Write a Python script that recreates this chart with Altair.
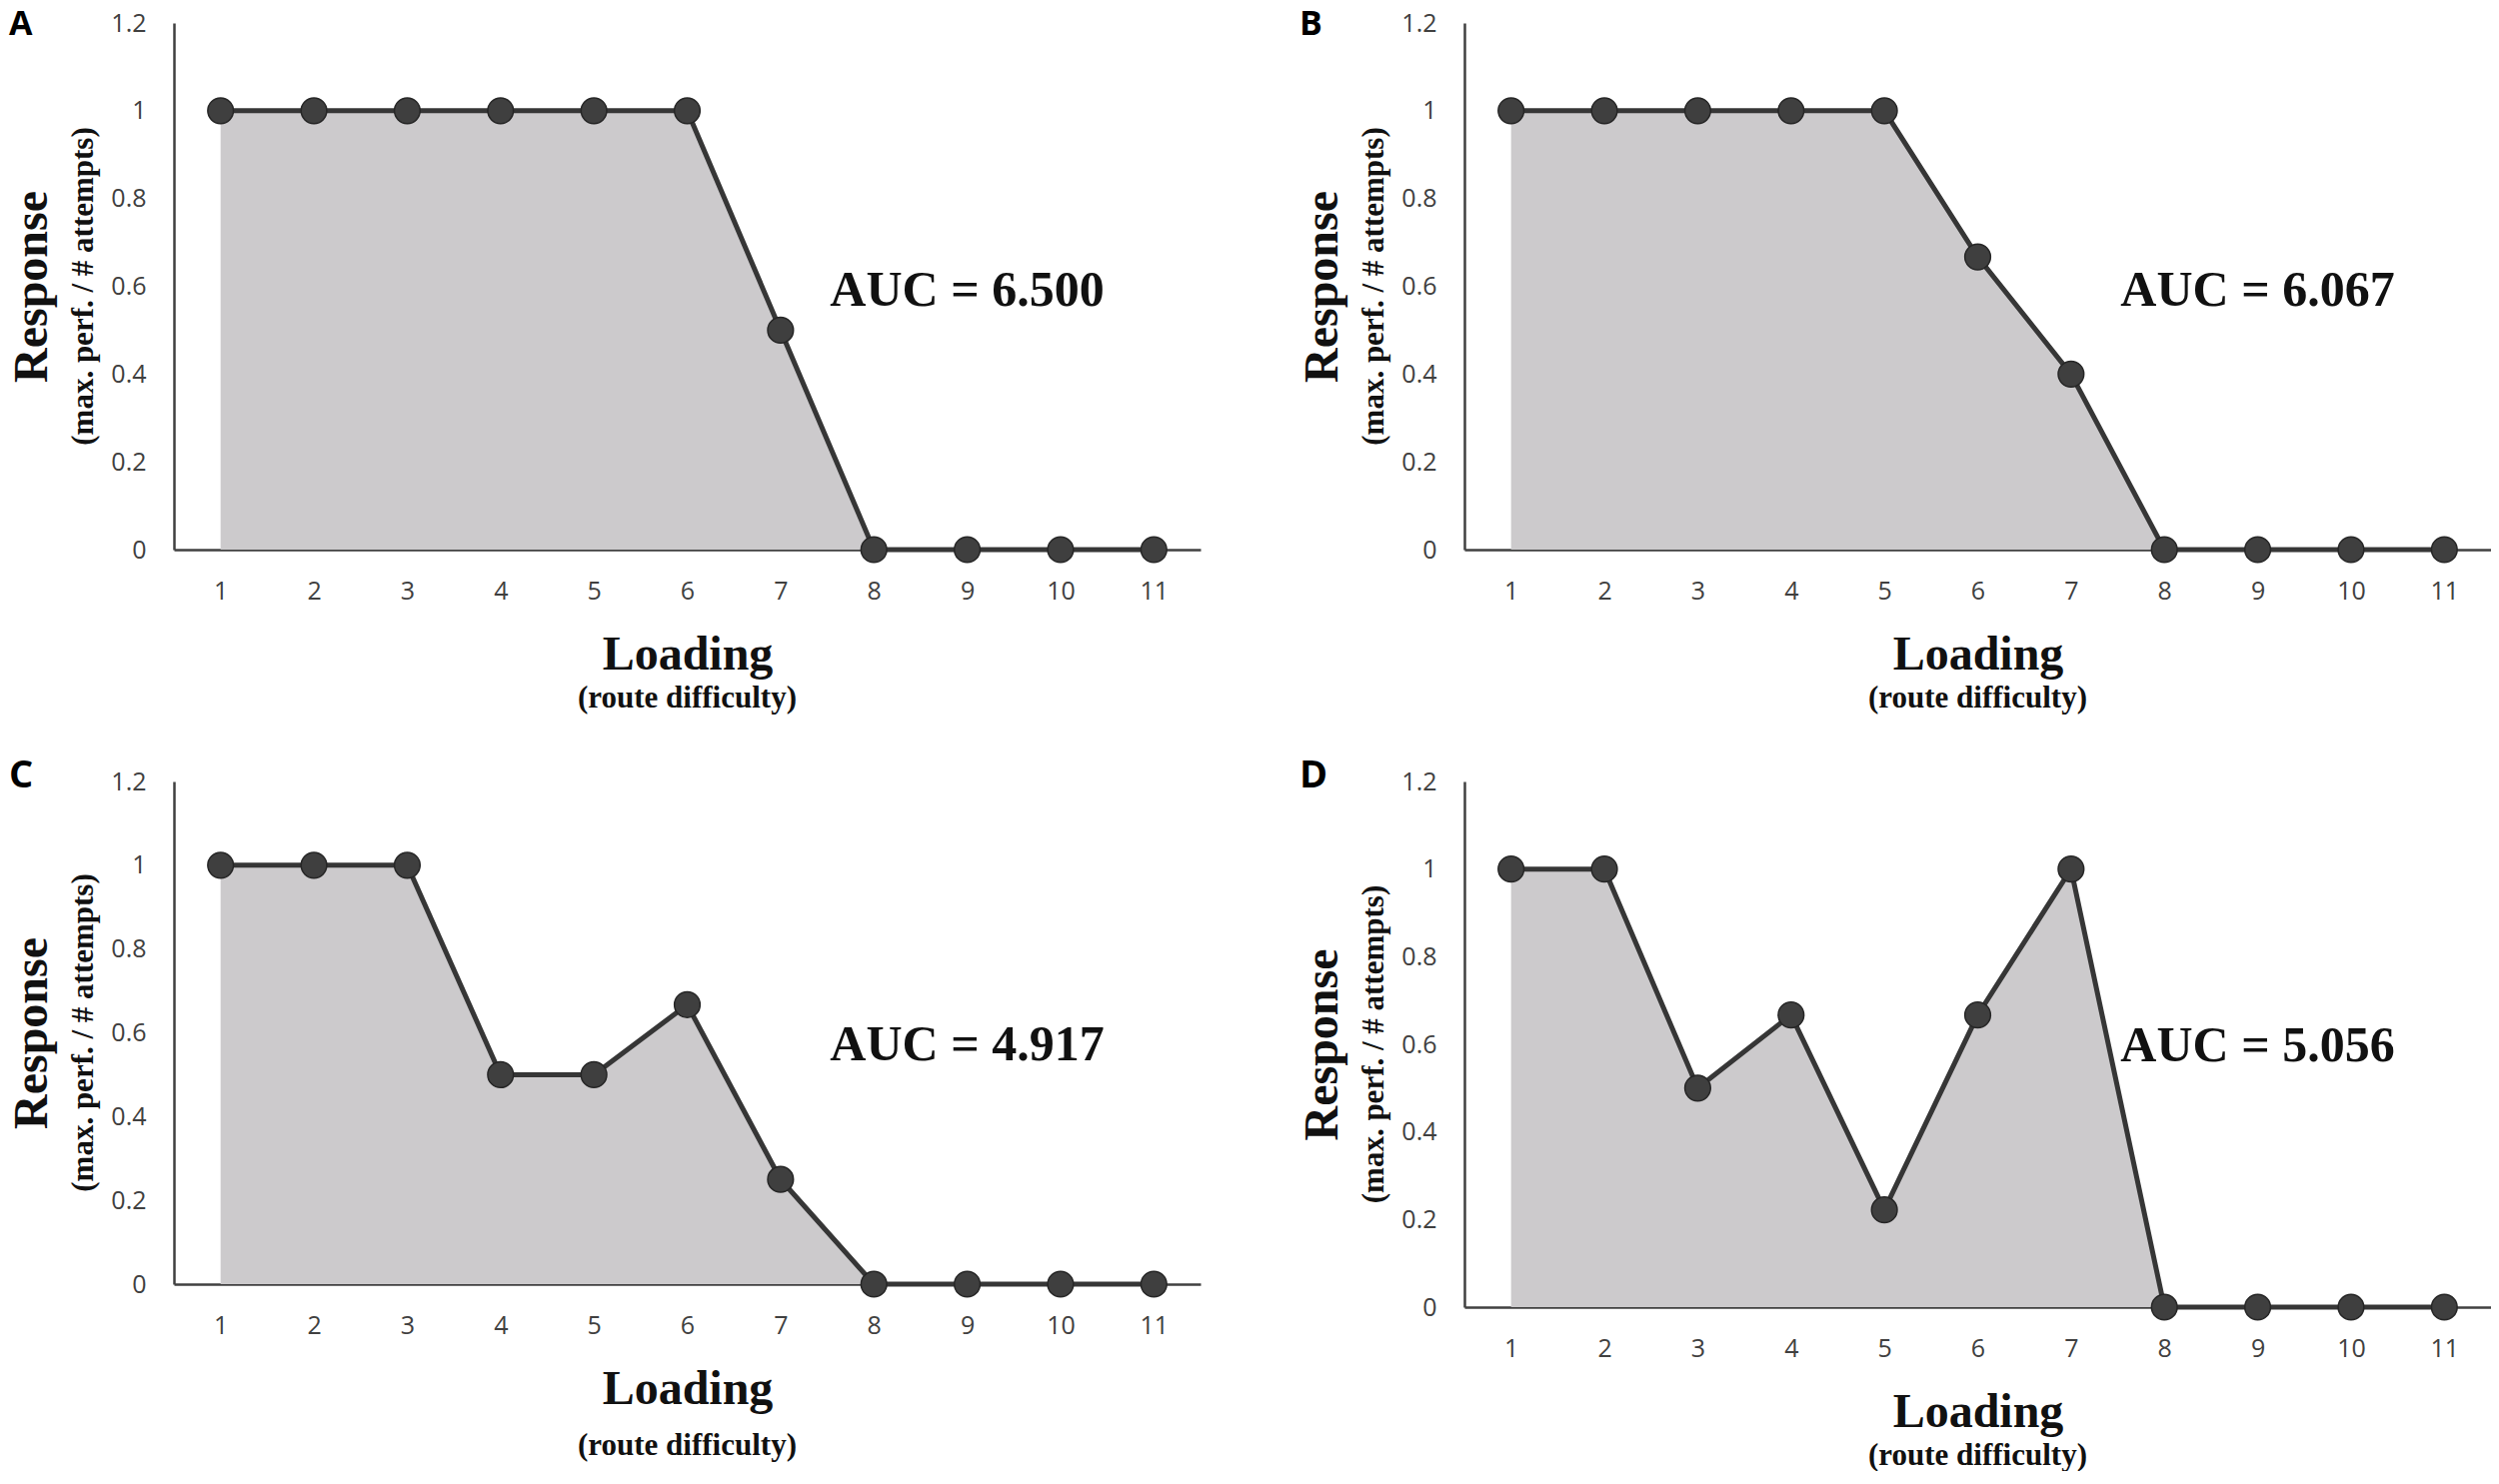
import altair as alt
import pandas as pd

# route difficulty levels (x) and response per panel (y)
LOADING = [1, 2, 3, 4, 5, 6, 7, 8, 9, 10, 11]
RESP_A = [1, 1, 1, 1, 1, 1, 0.5, 0, 0, 0, 0]
RESP_B = [1, 1, 1, 1, 1, 0.667, 0.4, 0, 0, 0, 0]
RESP_C = [1, 1, 1, 0.5, 0.5, 0.667, 0.25, 0, 0, 0, 0]
RESP_D = [1, 1, 0.5, 0.667, 0.222, 0.667, 1, 0, 0, 0, 0]

Y_TICKS = [0, 0.2, 0.4, 0.6, 0.8, 1, 1.2]
LETTERS = ["A", "B", "C", "D"]
AUC_TEXT = ["AUC = 6.500", "AUC = 6.067", "AUC = 4.917", "AUC = 5.056"]
AUC_X = [7.53, 7.53, 7.53, 7.53]
AUC_Y = [0.59, 0.59, 0.57, 0.595]

SERIF = "Liberation Serif, Times New Roman, serif"
SANS = "Open Sans, sans-serif"
W = 1027


def panel(resp, letter, auc_text, auc_x, auc_y, height, letter_size, letter_y, sub_gap):
    df = pd.DataFrame({"loading": LOADING, "response": resp})

    x = alt.X(
        "loading:Q",
        scale=alt.Scale(domain=[0.5, 11.5], nice=False, zero=False),
        axis=alt.Axis(
            values=LOADING, format="d", title="Loading", titleX=W / 2, titleY=119,
            titleBaseline="alphabetic", titleAlign="center",
            labelPadding=29, labelBaseline="top",
        ),
    )
    y = alt.Y(
        "response:Q",
        scale=alt.Scale(domain=[0, 1.2], nice=False),
        axis=alt.Axis(
            values=Y_TICKS, format="~g", title="Response", titleAngle=270,
            titleX=-128, titleY=height / 2, titleBaseline="alphabetic",
            titleAlign="center", labelPadding=28,
        ),
    )

    base = alt.Chart(df).encode(x=x, y=y)
    area = base.mark_area(color="#cccacc")
    line = base.mark_line(color="#363636", strokeWidth=5)
    dots = base.mark_circle(size=660, color="#3f3f3f", opacity=1, stroke="#262626", strokeWidth=1.5)

    auc = (
        alt.Chart(pd.DataFrame({"loading": [auc_x], "response": [auc_y], "t": [auc_text]}))
        .mark_text(font=SERIF, fontWeight="bold", fontSize=50, align="left", baseline="middle", color="#111111")
        .encode(x="loading:Q", y="response:Q", text="t:N")
    )

    lbl = alt.Chart(pd.DataFrame({"t": [letter]})).mark_text(
        font=SANS, fontWeight="bold", fontSize=letter_size, align="left", baseline="top", color="#000000"
    ).encode(x=alt.value(-165), y=alt.value(letter_y), text="t:N")

    ysub = alt.Chart(pd.DataFrame({"t": ["(max. perf. / # attempts)"]})).mark_text(
        font=SERIF, fontWeight="bold", fontSize=31, angle=270, align="center", baseline="alphabetic", color="#111111"
    ).encode(x=alt.value(-81), y=alt.value(height / 2), text="t:N")

    xsub = alt.Chart(pd.DataFrame({"t": ["(route difficulty)"]})).mark_text(
        font=SERIF, fontWeight="bold", fontSize=31, align="center", baseline="alphabetic", color="#111111"
    ).encode(x=alt.value(W / 2), y=alt.value(height + sub_gap), text="t:N")

    return alt.layer(area, line, dots, auc, lbl, ysub, xsub).properties(width=W, height=height)


pa = panel(RESP_A, LETTERS[0], AUC_TEXT[0], AUC_X[0], AUC_Y[0], 527, 34, -15, 158)
pb = panel(RESP_B, LETTERS[1], AUC_TEXT[1], AUC_X[1], AUC_Y[1], 527, 34, -15, 158)
pc = panel(RESP_C, LETTERS[2], AUC_TEXT[2], AUC_X[2], AUC_Y[2], 503, 38, -24, 171)
pd_ = panel(RESP_D, LETTERS[3], AUC_TEXT[3], AUC_X[3], AUC_Y[3], 526, 38, -24, 158)

chart = (
    alt.vconcat(
        alt.hconcat(pa, pb, spacing=98),
        alt.hconcat(pc, pd_, spacing=98),
        spacing=44,
    )
    .properties(padding=0, background="white")
    .configure_view(stroke=None)
    .configure_axis(
        grid=False, ticks=False, domainColor="#404040", domainWidth=2.5,
        labelFont=SANS, labelFontSize=25, labelColor="#404040",
        titleFont=SERIF, titleFontSize=48, titleFontWeight="bold", titleColor="#111111",
    )
)

chart.save("out.html", embed_options={"renderer": "svg", "actions": False})
